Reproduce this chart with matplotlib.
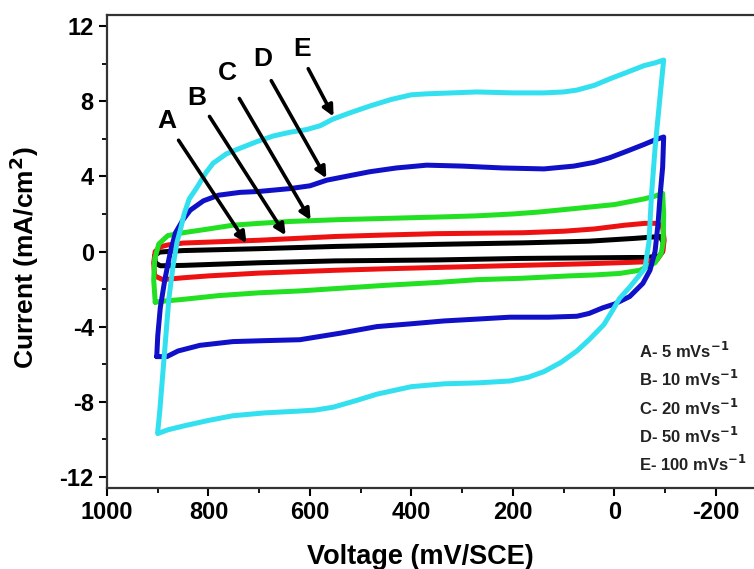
import matplotlib
matplotlib.use("Agg")
import matplotlib.pyplot as plt
from matplotlib.ticker import MultipleLocator

plt.rcParams['font.family'] = ['Liberation Sans', 'DejaVu Sans']
plt.rcParams['font.weight'] = 'bold'
plt.rcParams['mathtext.default'] = 'bf'
plt.rcParams['axes.unicode_minus'] = False

# ---- data ----
V_A = [905, 906, 896, 880, 850, 700, 550, 350, 180, 50, -40, -90, -96, -95, -88, -60, -30, 186, 350, 550, 700, 850, 895, 905]
I_A = [-0.6, -0.2, -0.03, 0.0, 0.05, 0.15, 0.27, 0.38, 0.46, 0.55, 0.7, 0.8, 0.5, 0.0, -0.25, -0.32, -0.32, -0.37, -0.45, -0.5, -0.6, -0.74, -0.76, -0.6]

V_B = [906, 908, 905, 895, 880, 850, 700, 550, 450, 350, 180, 100, 40, -20, -60, -85, -95, -98, -95, -85, -60, -30, 50, 186, 350, 450, 550, 700, 800, 850, 890, 906]
I_B = [-1.3, -0.6, 0.0, 0.25, 0.35, 0.45, 0.6, 0.8, 0.88, 0.95, 1.0, 1.08, 1.2, 1.4, 1.5, 1.5, 1.3, 0.6, 0.0, -0.4, -0.55, -0.58, -0.65, -0.74, -0.85, -0.92, -1.0, -1.15, -1.3, -1.4, -1.5, -1.3]

V_C = [905, 908, 906, 898, 880, 850, 800, 752, 700, 640, 541, 468, 400, 330, 271, 200, 150, 74, 0, -58, -80, -95, -97, -96, -92, -80, -50, -10, 40, 90, 186, 270, 350, 450, 541, 620, 700, 780, 850, 890, 905]
I_C = [-2.7, -1.5, -0.4, 0.4, 0.85, 1.0, 1.2, 1.4, 1.5, 1.6, 1.7, 1.75, 1.8, 1.85, 1.9, 2.0, 2.1, 2.3, 2.5, 2.8, 2.95, 3.1, 2.0, 0.5, -0.1, -0.6, -1.0, -1.17, -1.25, -1.3, -1.43, -1.5, -1.65, -1.8, -1.96, -2.1, -2.2, -2.35, -2.55, -2.65, -2.7]

V_D = [902, 900, 895, 886, 875, 865, 850, 836, 810, 780, 738, 700, 640, 600, 567, 520, 482, 430, 370, 300, 220, 139, 80, 40, 9, -25, -58, -80, -97,
       -95, -90, -86, -80, -70, -56, -30, 0, 23, 50, 74, 130, 206, 270, 336, 400, 468, 540, 620, 690, 752, 817, 860, 882, 902]
I_D = [-5.6, -4.5, -3.0, -1.5, 0.0, 1.0, 1.7, 2.2, 2.7, 3.0, 3.15, 3.2, 3.35, 3.5, 3.8, 4.05, 4.25, 4.45, 4.6, 4.55, 4.45, 4.4, 4.55, 4.75, 5.0, 5.35, 5.7, 5.95, 6.1,
       4.5, 3.0, 1.5, 0.0, -1.0, -1.7, -2.4, -2.8, -3.0, -3.3, -3.45, -3.5, -3.5, -3.6, -3.7, -3.85, -4.0, -4.35, -4.7, -4.75, -4.8, -5.0, -5.3, -5.6, -5.6]

V_E = [900, 896, 890, 884, 878, 870, 862, 855, 848, 838, 823, 805, 791, 765, 738, 705, 673, 640, 606, 580, 555, 520, 482, 440, 400, 370, 320, 271, 200, 139, 100, 74, 40, 9, -25, -58, -80, -97,
       -90, -80, -73, -68, -60, -45, -30, -10, 5, 21, 50, 74, 105, 139, 170, 206, 270, 336, 400, 468, 510, 555, 590, 620, 690, 752, 800, 850, 880, 900]
I_E = [-9.6, -8.5, -6.5, -4.5, -2.5, -0.8, 0.5, 1.2, 2.0, 2.8, 3.4, 4.2, 4.7, 5.2, 5.5, 5.85, 6.15, 6.35, 6.5, 6.7, 7.05, 7.4, 7.75, 8.1, 8.35, 8.4, 8.45, 8.5, 8.45, 8.45, 8.5, 8.6, 8.85, 9.2, 9.55, 9.9, 10.05, 10.2,
       8.3, 5.5, 3.0, 0.5, -0.9, -1.4, -1.9, -2.5, -3.2, -3.9, -4.7, -5.3, -5.9, -6.4, -6.7, -6.9, -7.0, -7.05, -7.2, -7.6, -7.95, -8.3, -8.45, -8.5, -8.6, -8.75, -9.0, -9.3, -9.5, -9.7]

series_V = [V_A, V_B, V_C, V_D, V_E]
series_I = [I_A, I_B, I_C, I_D, I_E]
colors = ['#000000', '#ee1111', '#22e022', '#1010c8', '#33e0f0']

labels = ['A', 'B', 'C', 'D', 'E']
label_pos = [(882, 6.95), (823, 8.17), (762, 9.5), (693, 10.24), (616, 10.8)]
arrow_tail = [(862, 6.05), (801, 7.32), (742, 8.28), (679, 9.23), (606, 9.87)]
arrow_head = [(722, 0.32), (645, 0.74), (596, 1.54), (565, 3.77), (551, 7.06)]

legend_lines = ['A- 5 mVs$^{-1}$', 'B- 10 mVs$^{-1}$', 'C- 20 mVs$^{-1}$', 'D- 50 mVs$^{-1}$', 'E- 100 mVs$^{-1}$']

x_ticks = [1000, 800, 600, 400, 200, 0, -200]
y_ticks = [12, 8, 4, 0, -4, -8, -12]

# ---- figure ----
W, H = 754, 569
fig = plt.figure(figsize=(W / 100, H / 100), dpi=100)
ax = fig.add_axes([107 / W, 1 - 488 / H, (W - 107) / W, (488 - 15) / H])

for V, I, c in zip(series_V, series_I, colors):
    ax.plot(V, I, color=c, lw=3.6, solid_joinstyle='round', solid_capstyle='round')

for lab, lp, t, h in zip(labels, label_pos, arrow_tail, arrow_head):
    ax.text(lp[0], lp[1], lab, fontsize=19, fontweight='bold', ha='center', va='center')
    ax.annotate('', xy=h, xytext=t,
                arrowprops=dict(arrowstyle='-|>,head_length=0.65,head_width=0.32', color='black', lw=2.6))

for k, s in enumerate(legend_lines):
    ax.text(639, H - (351 + 28.3 * k), s, transform=None, fontsize=12, fontweight='bold', color='#222222',
            ha='left', va='center')

ax.set_xlim(1000, -275)
ax.set_ylim(-12.6, 12.6)
ax.set_xticks(x_ticks)
ax.set_yticks(y_ticks)
ax.xaxis.set_minor_locator(MultipleLocator(100))
ax.yaxis.set_minor_locator(MultipleLocator(2))
ax.tick_params(which='major', direction='out', length=6, width=1.5, labelsize=17)
ax.tick_params(which='minor', direction='out', length=3.5, width=1.3)
ax.spines['right'].set_visible(False)
for s in ['left', 'bottom', 'top']:
    ax.spines[s].set_linewidth(1.6)
    ax.spines[s].set_color('#333333')

ax.set_xlabel('Voltage (mV/SCE)', fontsize=19.5, fontweight='bold')
ax.set_ylabel('Current (mA/cm$^2$)', fontsize=19, fontweight='bold')
ax.xaxis.set_label_coords((420 - 107) / (W - 107), -0.118)
ax.yaxis.set_label_coords(-0.102, 0.486)

fig.savefig('out.png', dpi=100)
